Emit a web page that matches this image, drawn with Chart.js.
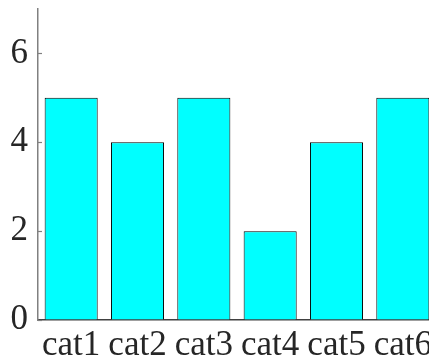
<!DOCTYPE html>
<html>
<head>
<meta charset="utf-8">
<script src="https://cdn.jsdelivr.net/npm/chart.js@4"></script>
<style>
html,body{margin:0;padding:0;overflow:hidden;background:#fff;}
#wrap{position:relative;width:440px;height:360px;}
</style>
</head>
<body>
<div id="wrap"><canvas id="c"></canvas></div>
<script>
const categories = ['cat1','cat2','cat3','cat4','cat5','cat6'];
const values = [5,4,5,2,4,5];
const yTicks = [0,2,4,6];

const innerTicks = {
  id: 'innerTicks',
  afterDatasetsDraw(chart) {
    const y = chart.scales.y, ctx = chart.ctx;
    ctx.save();
    ctx.strokeStyle = '#808080';
    ctx.lineWidth = 1.2;
    yTicks.forEach(v => {
      const py = Math.round(y.getPixelForValue(v)) + 0.5;
      ctx.beginPath();
      ctx.moveTo(y.right, py);
      ctx.lineTo(y.right + 4, py);
      ctx.stroke();
    });
    ctx.restore();
  }
};

const FONT = '"Liberation Serif", serif';

new Chart(document.getElementById('c'), {
  type: 'bar',
  data: {
    labels: categories,
    datasets: [{
      data: values,
      backgroundColor: '#00ffff',
      borderColor: '#000000',
      borderWidth: 1,
      barPercentage: 0.8,
      categoryPercentage: 1.0
    }]
  },
  options: {
    responsive: true,
    maintainAspectRatio: false,
    animation: false,
    layout: { padding: { left: 0, right: 4, top: 9, bottom: 0 } },
    plugins: { legend: { display: false }, tooltip: { enabled: false } },
    scales: {
      x: {
        offset: true,
        grid: { display: true, drawOnChartArea: false, drawTicks: false, tickLength: 0 },
        border: { display: true, color: '#404040', width: 1.5 },
        afterFit(s) { s.paddingLeft = 0; s.paddingRight = 0; s.height = 40; },
        ticks: { padding: 8, color: '#262626', maxRotation: 0, autoSkip: false,
                 font: { family: FONT, size: 35, lineHeight: 1.0 } }
      },
      y: {
        min: 0, max: 7,
        grid: { display: true, drawOnChartArea: false, drawTicks: false, tickLength: 0 },
        border: { display: true, color: '#808080', width: 1.5 },
        afterBuildTicks(scale) { scale.ticks = yTicks.map(v => ({ value: v })); },
        afterFit(s) { s.paddingTop = 0; s.paddingBottom = 0; s.width = 38; },
        ticks: { padding: 10, color: '#262626',
                 font: { family: FONT, size: 35, lineHeight: 1.0 } }
      }
    }
  },
  plugins: [innerTicks]
});
</script>
</body>
</html>
